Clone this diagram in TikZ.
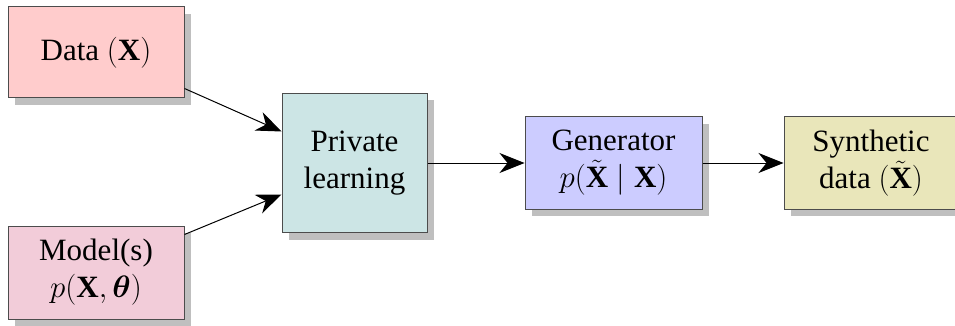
\RequirePackage{fix-cm}
\documentclass[tikz,border=0pt]{standalone}
\usepackage{amsmath,amsbsy}
\usepackage{fontspec}
\setmainfont{Liberation Serif}
\usetikzlibrary{shadows,arrows.meta,calc}
\begin{document}
\begin{tikzpicture}[x=1pt,y=-1pt,
  box/.style={draw=black!70, line width=1pt, align=center, inner sep=0pt,
    font=\fontsize{31}{37}\selectfont,
    drop shadow={shadow xshift=7pt, shadow yshift=-7pt, fill=black!25, opacity=1}},
  arr/.style={line width=1pt, -{Stealth[length=25pt,width=20pt,inset=8pt]}}]
\useasboundingbox (0,0) rectangle (955,326);
\node[box, fill=red!20, minimum width=176pt, minimum height=91pt] (data) at (96,52.5) {Data $(\mathbf{X})$};
\node[box, fill=purple!20, minimum width=176pt, minimum height=93pt] (model) at (96,272.5) {Model(s)\\$p(\mathbf{X},\boldsymbol{\theta})$};
\node[box, fill=teal!20, minimum width=145pt, minimum height=139pt] (priv) at (354.5,163) {Private\\learning};
\node[box, fill=blue!20, minimum width=177pt, minimum height=92pt] (gen) at (613.5,163) {Generator\\$p(\tilde{\mathbf{X}}\mid\mathbf{X})$};
\node[box, fill=olive!20, minimum width=174pt, minimum height=92pt] (syn) at (871,163) {Synthetic\\data $(\tilde{\mathbf{X}})$};
\coordinate (d1) at ($(data.south east)+(0,-10)$);
\coordinate (p1) at ($(priv.west)+(0,-31.5)$);
\coordinate (m1) at ($(model.north east)+(0,9)$);
\coordinate (p2) at ($(priv.west)+(0,31.5)$);
\draw[arr] (d1) -- (p1);
\draw[arr] (m1) -- (p2);
\draw[arr] (priv) -- (gen);
\draw[arr] (gen) -- (syn);
\end{tikzpicture}
\end{document}
